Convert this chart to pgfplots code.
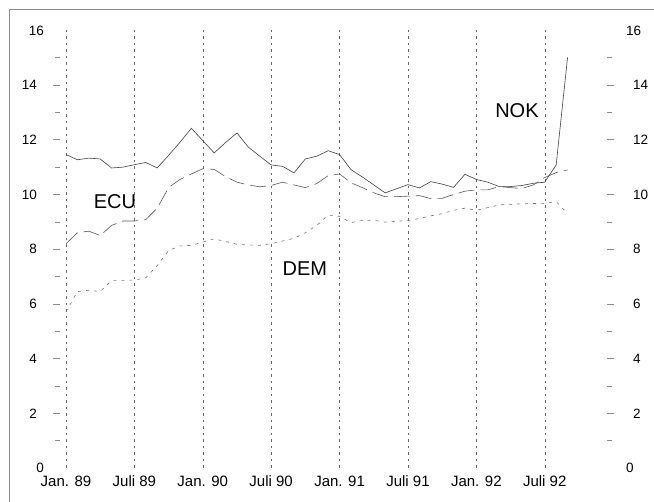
\documentclass[border=0pt]{standalone}
\usepackage{fontspec}
\setmainfont{Liberation Sans}
\usepackage{pgfplots}
\pgfplotsset{compat=1.18}
\begin{document}
\begin{tikzpicture}
\useasboundingbox (-60pt,-34pt) rectangle (594pt,468pt);
\draw[black!45, line width=0.6pt] (-51pt,-34pt) -- (-51pt,459pt) -- (594pt,459pt);
\pgfplotsset{myax/.style={
  scale only axis, width=547pt, height=437.6pt,
  xmin=-0.526, xmax=47.46, ymin=0, ymax=16,
  axis line style={draw=none},
  tick align=outside,
  major tick length=7pt, minor tick length=5pt,
  ytick={2,4,...,14}, minor ytick={1,3,...,15},
  extra y ticks={0,16}, extra y tick style={major tick length=0pt},
  y tick style={black!45, line width=0.6pt},
  /pgf/number format/assume math mode=true,
  yticklabel style={font=\fontsize{13.5}{16}\selectfont, inner sep=0pt},
}}
\begin{axis}[myax,
  xtick={0,6,...,42},
  xticklabels={Jan. 89, Juli 89, Jan. 90, Juli 90, Jan. 91, Juli 91, Jan. 92, Juli 92},
  x tick style={draw=none},
  xticklabel style={font=\fontsize{15}{18}\selectfont, inner sep=0pt, anchor=north, text height=11pt, text depth=3pt},
  xmajorgrids, grid style={black!60, line width=0.5pt, dash pattern=on 2.5pt off 4pt},
  ytick pos=left, yticklabel pos=left,
  yticklabel style={xshift=-16pt},
]
\addplot[black!75, line width=0.6pt] coordinates {
(0,11.46)(1,11.27)(2,11.33)(3,11.30)(4,10.97)(5,11.00)(6,11.09)(7,11.17)(8,10.97)(9,11.43)
(10,11.91)(11,12.42)(12,11.97)(13,11.52)(14,11.90)(15,12.25)(16,11.73)(17,11.40)(18,11.08)(19,11.03)
(20,10.79)(21,11.30)(22,11.40)(23,11.60)(24,11.46)(25,10.91)(26,10.64)(27,10.35)(28,10.06)(29,10.21)
(30,10.36)(31,10.24)(32,10.47)(33,10.38)(34,10.26)(35,10.74)(36,10.55)(37,10.45)(38,10.29)(39,10.29)
(40,10.33)(41,10.41)(42,10.45)(43,11.08)(44,15.01)};
\addplot[black!65, line width=0.6pt, dash pattern=on 16pt off 6pt] coordinates {
(0,8.20)(1,8.60)(2,8.66)(3,8.50)(4,8.87)(5,9.03)(6,9.03)(7,9.08)(8,9.50)(9,10.25)
(10,10.55)(11,10.75)(12,10.94)(13,10.92)(14,10.65)(15,10.45)(16,10.35)(17,10.28)(18,10.33)(19,10.45)
(20,10.35)(21,10.25)(22,10.40)(23,10.69)(24,10.75)(25,10.43)(26,10.25)(27,10.06)(28,9.92)(29,9.92)
(30,9.94)(31,9.96)(32,9.85)(33,9.86)(34,10.00)(35,10.12)(36,10.17)(37,10.17)(38,10.29)(39,10.25)
(40,10.22)(41,10.35)(42,10.62)(43,10.80)(44,10.90)};
\addplot[black!55, line width=0.6pt, dash pattern=on 3pt off 5pt] coordinates {
(0,5.71)(1,6.45)(2,6.50)(3,6.45)(4,6.86)(5,6.86)(6,6.87)(7,6.95)(8,7.40)(9,7.95)
(10,8.12)(11,8.14)(12,8.26)(13,8.38)(14,8.28)(15,8.18)(16,8.15)(17,8.14)(18,8.20)(19,8.30)
(20,8.40)(21,8.60)(22,8.87)(23,9.25)(24,9.20)(25,8.97)(26,9.05)(27,9.06)(28,8.99)(29,9.02)
(30,9.05)(31,9.12)(32,9.22)(33,9.30)(34,9.42)(35,9.50)(36,9.42)(37,9.52)(38,9.62)(39,9.64)
(40,9.66)(41,9.67)(42,9.68)(43,9.74)(44,9.30)};
\node[font=\fontsize{20}{24}\selectfont] at (axis cs:4.3,9.74) {ECU};
\node[font=\fontsize{20}{24}\selectfont] at (axis cs:39.56,13.07) {NOK};
\node[font=\fontsize{20}{24}\selectfont] at (axis cs:20.96,7.30) {DEM};
\end{axis}
\begin{axis}[myax,
  xtick=\empty,
  ytick pos=right, yticklabel pos=right,
  yticklabel style={xshift=19pt},
]
\end{axis}
\end{tikzpicture}
\end{document}
